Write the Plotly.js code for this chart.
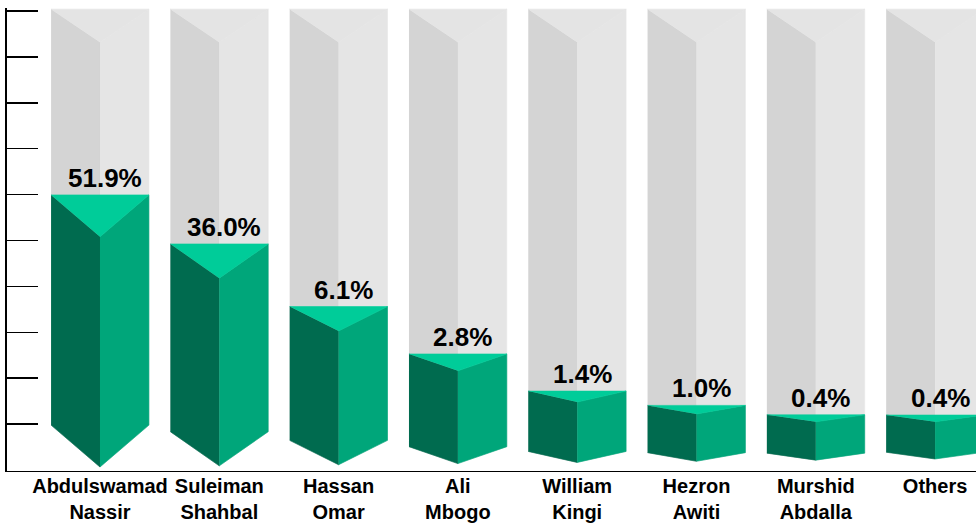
<!DOCTYPE html>
<html>
<head>
<meta charset="utf-8">
<script src="https://cdn.plot.ly/plotly-3.0.1.min.js"></script>
<style>html,body{margin:0;padding:0;background:#fff;}#chart{width:976px;height:526px;}</style>
</head>
<body>
<div id="chart"></div>
<script>
// ---- data ----
const candidates = ["Abdulswamad Nassir", "Suleiman Shahbal", "Hassan Omar", "Ali Mbogo",
                    "William Kingi", "Hezron Awiti", "Murshid Abdalla", "Others"];
// vote share shown in the labels (%)
const voteShare = [51.9, 36.0, 6.1, 2.8, 1.4, 1.0, 0.4, 0.4];
// height of each prism's front edge as drawn, read on the 0-100 axis
const barLevel = [50.8, 41.8, 30.3, 21.6, 14.8, 12.2, 10.5, 10.5];
// full-height background column level
const backLevel = 100.4;
const yTicks = [0, 10, 20, 30, 40, 50, 60, 70, 80, 90, 100];

// ---- geometry / style helpers ----
const halfW = 0.41;      // half bar width in category units
const depthK = 0.182;    // top/bottom face depth relative to bar height
const backDepth = 7.2;   // depth of background column top face
function baseOf(i) { return 0.65 + 0.25 * i; } // slight perspective tilt of the floor

function faces() {
  const f = {gL:{x:[],y:[]}, gR:{x:[],y:[]}, gT:{x:[],y:[]}, cL:{x:[],y:[]}, cR:{x:[],y:[]}, cT:{x:[],y:[]}};
  function push(o, xs, ys) { o.x.push(...xs, null); o.y.push(...ys, null); }
  candidates.forEach((c, i) => {
    const xl = i - halfW, xc = i, xr = i + halfW;
    const b = baseOf(i);
    const T = barLevel[i];
    const d = depthK * (T - b);
    const Gc = backLevel, Ga = backLevel - backDepth;
    push(f.gL, [xl, xc, xc, xl], [Gc, Ga, b, b + d]);
    push(f.gR, [xc, xr, xr, xc], [Ga, Gc, b + d, b]);
    push(f.gT, [xl, xr, xc], [Gc, Gc, Ga]);
    push(f.cL, [xl, xc, xc, xl], [T + d, T, b, b + d]);
    push(f.cR, [xc, xr, xr, xc], [T, T + d, b + d, b]);
    push(f.cT, [xl, xr, xc], [T + d, T + d, T]);
  });
  return f;
}
const F = faces();
function poly(o, color) {
  return {x: o.x, y: o.y, type: 'scatter', mode: 'lines', fill: 'toself', fillcolor: color,
          line: {width: 0.6, color: color}, hoverinfo: 'skip', showlegend: false};
}
const traces = [
  poly(F.gL, '#d4d4d4'), poly(F.gR, '#e5e5e5'), poly(F.gT, '#e4e4e4'),
  poly(F.cL, '#006b4f'), poly(F.cR, '#00a67a'), poly(F.cT, '#00cc99')
];

const font = 'Liberation Sans, Arial, Helvetica, sans-serif';
const annotations = candidates.map((c, i) => {
  const b = baseOf(i);
  const T = barLevel[i];
  const d = depthK * (T - b);
  return {x: i, y: T + d, xref: 'x', yref: 'y', xanchor: 'center', yanchor: 'bottom',
    xshift: 5, yshift: 0, showarrow: false, text: '<b>' + voteShare[i].toFixed(1) + '%</b>',
    font: {family: font, size: 26, color: '#000'}};
});
const tickText = candidates.map(c => '<b>' + c.split(' ').join('<br>') + '</b>');

const layout = {
  width: 976, height: 526,
  margin: {l: 7, r: 0, t: 8, b: 55, pad: 0},
  paper_bgcolor: '#fff', plot_bgcolor: '#fff',
  showlegend: false,
  xaxis: {type: 'linear', range: [-0.7795, 7.343], showgrid: false, zeroline: false,
          showline: true, linecolor: '#000', linewidth: 1, ticks: '', showticklabels: true,
          tickmode: 'array', tickvals: candidates.map((c, i) => i), ticktext: tickText,
          tickangle: 0, tickfont: {family: font, size: 20, color: '#000'}, ticklabelstandoff: -3,
          automargin: false, fixedrange: true},
  yaxis: {type: 'linear', range: [-0.218, 100.65], showgrid: false, zeroline: false,
          showline: true, linecolor: '#000', linewidth: 2, ticks: 'inside', ticklen: 31,
          tickwidth: 1.5, tickcolor: '#000', tickmode: 'array', tickvals: yTicks,
          showticklabels: false, fixedrange: true},
  annotations: annotations
};
Plotly.newPlot('chart', traces, layout, {displayModeBar: false, staticPlot: true});
</script>
</body>
</html>
